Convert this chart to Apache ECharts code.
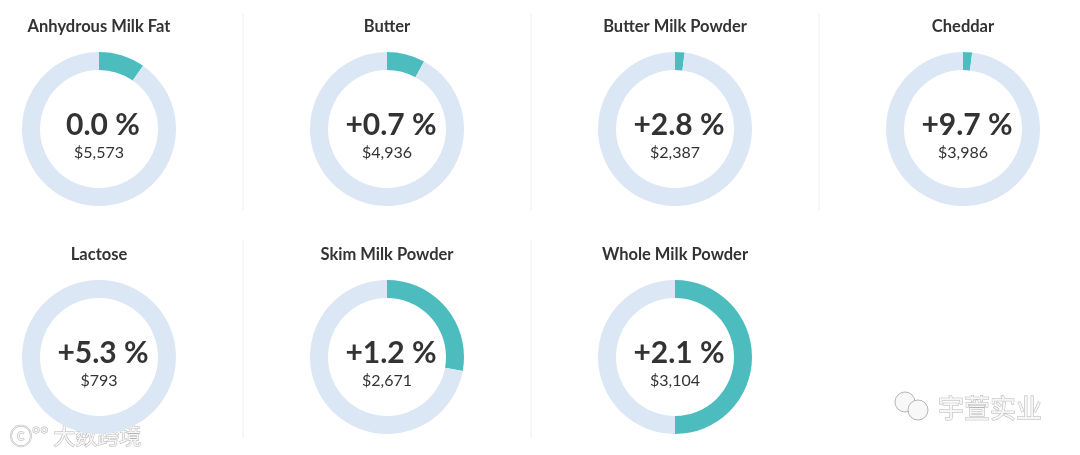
<!DOCTYPE html>
<html>
<head>
<meta charset="utf-8">
<script src="https://cdn.jsdelivr.net/npm/echarts@6/dist/echarts.min.js"></script>
<style>
html,body{margin:0;padding:0;background:#fff;}
#main{width:1080px;height:455px;}
</style>
</head>
<body>
<div id="main"></div>
<script>
// Data
var products = ['Anhydrous Milk Fat','Butter','Butter Milk Powder','Cheddar','Lactose','Skim Milk Powder','Whole Milk Powder'];
var changeLabels = ['0.0 %','+0.7 %','+2.8 %','+9.7 %','+5.3 %','+1.2 %','+2.1 %'];
var prices = ['$5,573','$4,936','$2,387','$3,986','$793','$2,671','$3,104'];
var shares = [9.7, 8.0, 2.0, 1.9, 0, 27.9, 50.0];

// Layout
var colX = [99, 387, 675, 963];
var rowY = [129, 357];
var rOuter = 77, rInner = 59;
var teal = '#4dbcbe', ringBg = '#dce7f5', txt = '#333333';
var font = 'Lato, "Noto Sans", sans-serif';

var series = [], graphic = [];
products.forEach(function(name, i){
  var cx = colX[i % 4], cy = rowY[Math.floor(i / 4)];
  series.push({
    type: 'pie', silent: true, center: [cx, cy], radius: [rInner, rOuter],
    startAngle: 90, clockwise: true, label: {show: false}, labelLine: {show: false},
    animation: false,
    data: [
      {value: shares[i], name: name, itemStyle: {color: teal}},
      {value: 100 - shares[i], name: 'rest', itemStyle: {color: ringBg}}
    ]
  });
  graphic.push({type: 'text', x: cx, y: cy - 102, style: {
    text: name, fill: txt, font: 'bold 16.5px ' + font, textAlign: 'center', textVerticalAlign: 'middle'}});
  graphic.push({type: 'text', x: cx + 4, y: cy - 4, style: {
    text: changeLabels[i], fill: txt, font: 'bold 30px ' + font, textAlign: 'center', textVerticalAlign: 'middle'}});
  graphic.push({type: 'text', x: cx, y: cy + 24, style: {
    text: prices[i], fill: txt, font: '16px ' + font, textAlign: 'center', textVerticalAlign: 'middle'}});
});
// separators between cards
var seps = [[243,14,210],[531,14,210],[819,14,210],[243,240,438],[531,240,438]];
seps.forEach(function(s){
  graphic.push({type: 'line', shape: {x1: s[0], y1: s[1], x2: s[0], y2: s[2]}, style: {stroke: '#efefef', lineWidth: 1}});
});
// watermarks
graphic.push({type: 'text', x: 10, y: 436, style: {text: 'ⓒ°° 大数跨境', fill: '#f6f6f6', stroke: '#b5b5b5', lineWidth: 1,
  font: '22px "Noto Sans CJK SC", sans-serif', textVerticalAlign: 'middle'}});
graphic.push({type: 'text', x: 938, y: 408, style: {text: '宇萱实业', fill: '#f6f6f6', stroke: '#b5b5b5', lineWidth: 1,
  font: '26px "Noto Sans CJK SC", sans-serif', textVerticalAlign: 'middle'}});
graphic.push({type: 'circle', shape: {cx: 905, cy: 402, r: 10}, style: {fill: '#f8f8f8', stroke: '#b5b5b5', lineWidth: 1}});
graphic.push({type: 'circle', shape: {cx: 918, cy: 410, r: 10}, style: {fill: '#f8f8f8', stroke: '#b5b5b5', lineWidth: 1}});

var chart = echarts.init(document.getElementById('main'), null, {renderer: 'canvas'});
chart.setOption({backgroundColor: '#ffffff', animation: false, series: series, graphic: graphic});
</script>
</body>
</html>
